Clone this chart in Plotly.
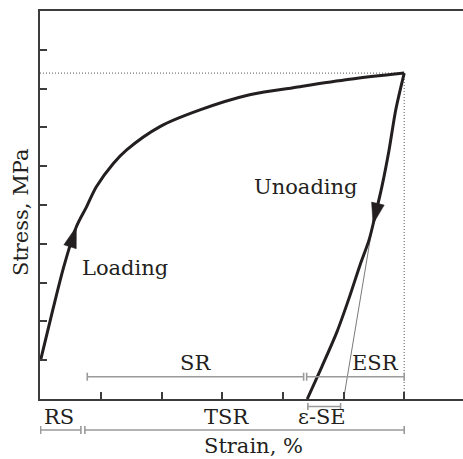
import numpy as np
import plotly.graph_objects as go

# ---------------- data ----------------
load_x = [0.00, 0.20, 0.39, 0.59, 0.76, 0.92, 1.20, 1.42, 1.97, 2.63, 3.45, 4.28, 5.10, 6.00]
load_y = [1.00, 2.29, 3.45, 4.44, 4.96, 5.47, 6.07, 6.42, 7.02, 7.45, 7.84, 8.05, 8.24, 8.40]

unload_x = [6.00, 5.86, 5.75, 5.63, 5.53, 5.42, 5.27, 5.09, 4.89, 4.64, 4.40]
unload_y = [8.40, 7.45, 6.42, 5.46, 4.79, 4.10, 3.45, 2.60, 1.73, 0.83, 0.00]

peak_x = 6.00
peak_y = 8.40

se_line_x = [5.00, 5.52]
se_line_y = [0.00, 4.87]

x_tick_vals = [1, 2, 3, 4, 5, 6]
y_tick_vals = [1, 2, 3, 4, 5, 6, 7, 8, 9]

upper_names = ["SR", "ESR"]
upper_start = [0.77, 4.39]
upper_end = [4.34, 6.00]
upper_label_x = [2.55, 5.53]

lower_names = ["RS", "TSR"]
lower_start = [0.00, 0.73]
lower_end = [0.665, 6.00]
lower_label_x = [0.30, 3.07]

se_name = "ε-SE"
se_start = 4.41
se_end = 4.95
se_label_x = 4.64

loading_arrow_tip_y = 4.44
unloading_arrow_tip_y = 4.51

# ---------------- layout geometry ----------------
W, H = 463, 459
M = dict(l=40, r=0, t=11, b=60)
xr = [-0.01, 6.97]
yr = [0, 10]
pw = W - M["l"] - M["r"]
ph = H - M["t"] - M["b"]
sx = pw / (xr[1] - xr[0])
sy = ph / (yr[1] - yr[0])
bottom_px = H - M["b"]


def py_to_paper(py):
    return (bottom_px - py) / ph


def px_to_paper(px):
    return (px - M["l"]) / pw


def x_on_curve(xs, ys, yv):
    xs = np.asarray(xs, float)
    ys = np.asarray(ys, float)
    o = np.argsort(ys)
    return float(np.interp(yv, ys[o], xs[o]))


def arrow_triangle(xs, ys, tip_y, back_dy, length=21, width=13):
    tx = x_on_curve(xs, ys, tip_y)
    bx = x_on_curve(xs, ys, tip_y + back_dy)
    TX, TY = tx * sx, tip_y * sy
    BX, BY = bx * sx, (tip_y + back_dy) * sy
    d = np.array([TX - BX, TY - BY])
    d /= np.linalg.norm(d)
    n = np.array([-d[1], d[0]])
    base = np.array([TX, TY]) - length * d
    p1 = base + width / 2 * n
    p2 = base - width / 2 * n
    xs_t = [TX / sx, p1[0] / sx, p2[0] / sx, TX / sx]
    ys_t = [TY / sy, p1[1] / sy, p2[1] / sy, TY / sy]
    return xs_t, ys_t


CURVE = "#231f20"
GRAY = "#9a9a9a"
AXIS = "#3c3c3c"
FONT = "DejaVu Serif"
FS = 21

fig = go.Figure()

# dotted guide lines at the peak
fig.add_trace(go.Scatter(x=[xr[0], peak_x], y=[peak_y, peak_y], mode="lines",
                         line=dict(color="#777777", width=1.2, dash="1px,2px"),
                         hoverinfo="skip", showlegend=False))
fig.add_trace(go.Scatter(x=[peak_x, peak_x], y=[peak_y, 0], mode="lines",
                         line=dict(color="#777777", width=1.2, dash="1px,2px"),
                         hoverinfo="skip", showlegend=False))

# elastic (thin) line
fig.add_trace(go.Scatter(x=se_line_x, y=se_line_y, mode="lines",
                         line=dict(color="#7a7a7a", width=1),
                         hoverinfo="skip", showlegend=False))

# loading / unloading curves
fig.add_trace(go.Scatter(x=load_x, y=load_y, mode="lines",
                         line=dict(color=CURVE, width=3, shape="spline", smoothing=0.9),
                         showlegend=False))
fig.add_trace(go.Scatter(x=unload_x, y=unload_y, mode="lines",
                         line=dict(color=CURVE, width=3, shape="spline", smoothing=0.8),
                         showlegend=False))

# arrowheads
for (cx, cy, ty, bd) in [(load_x, load_y, loading_arrow_tip_y, -0.8),
                         (unload_x, unload_y, unloading_arrow_tip_y, 0.8)]:
    ax_, ay_ = arrow_triangle(cx, cy, ty, bd)
    fig.add_trace(go.Scatter(x=ax_, y=ay_, mode="lines", fill="toself",
                             fillcolor=CURVE, line=dict(color=CURVE, width=0.5),
                             hoverinfo="skip", showlegend=False))

shapes = []


def bracket(x0, x1, py, tick_half=4):
    yp = py_to_paper(py)
    ya = py_to_paper(py - tick_half)
    yb = py_to_paper(py + tick_half)
    ln = dict(color=GRAY, width=1.6)
    shapes.append(dict(type="line", xref="x", yref="paper", x0=x0, x1=x1, y0=yp, y1=yp, line=ln))
    for xx in (x0, x1):
        shapes.append(dict(type="line", xref="x", yref="paper", x0=xx, x1=xx, y0=ya, y1=yb, line=ln))


for s, e in zip(upper_start, upper_end):
    bracket(s, e, 376.7)
for s, e in zip(lower_start, lower_end):
    bracket(s, e, 430)
bracket(se_start, se_end, 406.5, tick_half=3.5)

annotations = []


def label(text, x, y, xref="x", yref="paper", angle=0):
    annotations.append(dict(text=text, x=x, y=y, xref=xref, yref=yref, showarrow=False,
                            xanchor="center", yanchor="middle", textangle=angle,
                            font=dict(family=FONT, size=FS, color=CURVE)))


for name, lx in zip(upper_names, upper_label_x):
    label(name, lx, py_to_paper(363))
for name, lx in zip(lower_names, lower_label_x):
    label(name, lx, py_to_paper(416.5))
label(se_name, se_label_x, py_to_paper(416.5))
label("Strain, %", px_to_paper(254), py_to_paper(446), xref="paper")
label("Stress, MPa", px_to_paper(21), py_to_paper(213), xref="paper", angle=-90)
label("Loading", 1.39, py_to_paper(268))
label("Unoading", 4.38, py_to_paper(187))

fig.update_layout(
    width=W, height=H, margin=M,
    paper_bgcolor="white", plot_bgcolor="white",
    shapes=shapes, annotations=annotations,
    xaxis=dict(range=xr, showgrid=False, zeroline=False, showline=True, linecolor=AXIS,
               linewidth=2, mirror=True, ticks="inside", ticklen=7, tickwidth=1.5,
               tickcolor=AXIS, tickvals=x_tick_vals, showticklabels=False),
    yaxis=dict(range=yr, showgrid=False, zeroline=False, showline=True, linecolor=AXIS,
               linewidth=2, mirror=False, ticks="inside", ticklen=7, tickwidth=1.5,
               tickcolor=AXIS, tickvals=y_tick_vals, showticklabels=False),
)

fig.write_html("out.html", config={"displayModeBar": False},
               post_script="document.body.style.margin='0';document.body.style.overflow='hidden';")
